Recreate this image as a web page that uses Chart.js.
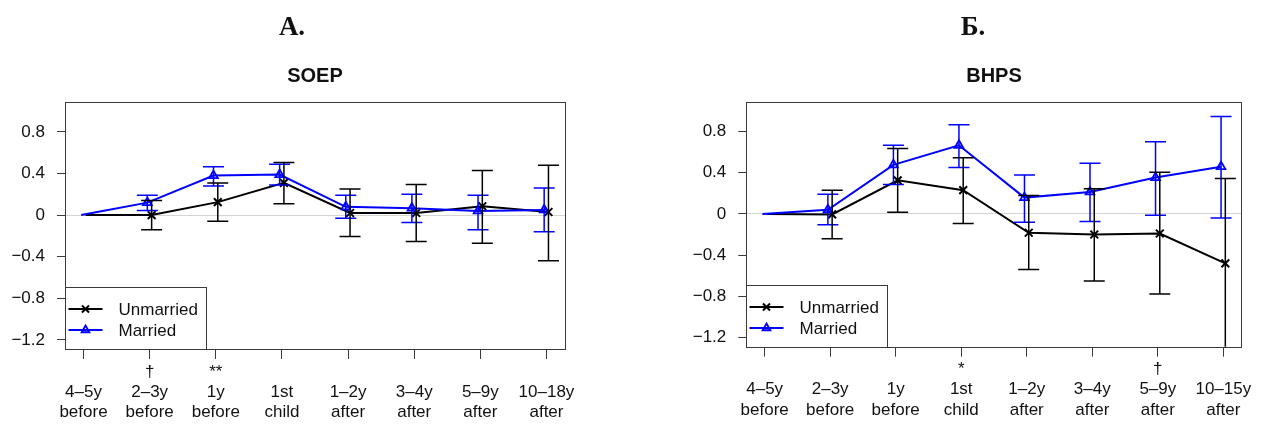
<!DOCTYPE html>
<html>
<head>
<meta charset="utf-8">
<script src="https://cdn.jsdelivr.net/npm/chart.js@4.4.0/dist/chart.umd.min.js"></script>
<style>
  body { margin: 0; background: #fff; }
  #wrap { position: relative; width: 1268px; height: 425px; overflow: hidden; }
  canvas { position: absolute; top: 0; }
  .lbl { position: absolute; width: 200px; text-align: center; line-height: 30px; color: #111; }
  .letter { font-family: "Liberation Serif", "Times New Roman", serif; font-weight: bold; font-size: 27px; }
  .name { font-family: "Liberation Sans", Arial, sans-serif; font-weight: bold; font-size: 20px; }
</style>
</head>
<body>
<div id="wrap">
  <canvas id="chartA" width="634" height="425" style="left:0"></canvas>
  <canvas id="chartB" width="634" height="425" style="left:634px"></canvas>
  <div class="lbl letter" style="left:192px; top:11px">A.</div>
  <div class="lbl name" style="left:215px; top:60px">SOEP</div>
  <div class="lbl letter" style="left:873px; top:11px">Б.</div>
  <div class="lbl name" style="left:894px; top:60px">BHPS</div>
</div>
<script>
// categories (two lines each)
const catsA = ['4–5y|before', '2–3y|before', '1y|before', '1st|child', '1–2y|after', '3–4y|after', '5–9y|after', '10–18y|after'];
const catsB = ['4–5y|before', '2–3y|before', '1y|before', '1st|child', '1–2y|after', '3–4y|after', '5–9y|after', '10–15y|after'];
const sigA = ['', '†', '**', '', '', '', '', ''];
const sigB = ['', '', '', '*', '', '', '†', ''];

const yTicks = [-1.2, -0.8, -0.4, 0, 0.4, 0.8];
const yTickLabels = ['−1.2', '−0.8', '−0.4', '0', '0.4', '0.8'];

// SOEP
const unmarriedA = [0, 0, 0.125, 0.31, 0.02, 0.02, 0.085, 0.03];
const unmarriedALo = [null, -0.14, -0.06, 0.11, -0.205, -0.255, -0.27, -0.44];
const unmarriedAHi = [null, 0.14, 0.31, 0.505, 0.25, 0.295, 0.43, 0.48];
const marriedA = [0, 0.12, 0.38, 0.39, 0.08, 0.067, 0.04, 0.05];
const marriedALo = [null, 0.045, 0.28, 0.29, -0.03, -0.07, -0.14, -0.16];
const marriedAHi = [null, 0.19, 0.465, 0.49, 0.19, 0.2, 0.19, 0.26];

// BHPS
const unmarriedB = [0, -0.005, 0.325, 0.23, -0.183, -0.2, -0.19, -0.48];
const unmarriedBLo = [null, -0.24, 0.016, -0.093, -0.54, -0.65, -0.776, -1.4];
const unmarriedBHi = [null, 0.23, 0.635, 0.545, 0.178, 0.245, 0.405, 0.342];
const marriedB = [0, 0.04, 0.475, 0.665, 0.158, 0.213, 0.352, 0.458];
const marriedBLo = [null, -0.105, 0.285, 0.45, -0.08, -0.075, -0.013, -0.04];
const marriedBHi = [null, 0.19, 0.665, 0.865, 0.377, 0.49, 0.70, 0.944];

const font = '"Liberation Sans", Arial, sans-serif';
Chart.defaults.font.family = font;
Chart.defaults.color = '#111';

const errorBars = {
  id: 'errorBars',
  afterDatasetsDraw(chart) {
    const { ctx, chartArea: a, scales: { x, y } } = chart;
    ctx.save();
    ctx.beginPath();
    ctx.rect(a.left, a.top, a.right - a.left, a.bottom - a.top);
    ctx.clip();
    chart.data.datasets.slice().reverse().forEach(ds => {
      ctx.strokeStyle = ds.borderColor;
      ctx.lineWidth = 1.5;
      ds.lo.forEach((lo, i) => {
        if (lo === null) return;
        const px = x.getPixelForValue(i + ds.dodge);
        const top = y.getPixelForValue(ds.hi[i]);
        const bot = y.getPixelForValue(lo);
        ctx.beginPath();
        ctx.moveTo(px, top); ctx.lineTo(px, bot);
        ctx.moveTo(px - 10.5, top); ctx.lineTo(px + 10.5, top);
        ctx.moveTo(px - 10.5, bot); ctx.lineTo(px + 10.5, bot);
        ctx.stroke();
      });
    });
    ctx.restore();
  }
};

const frameLegend = {
  id: 'frameLegend',
  afterDraw(chart) {
    const { ctx, chartArea: a } = chart;
    ctx.save();
    ctx.strokeStyle = '#3a3a3a';
    ctx.lineWidth = 1;
    ctx.strokeRect(Math.round(a.left) + 0.5, Math.round(a.top) + 0.5,
      Math.round(a.right - a.left), Math.round(a.bottom - a.top));

    // legend box in the bottom-left corner
    const lw = 141, lh = 62;
    const lx = Math.round(a.left) + 0.5, ly = Math.round(a.bottom - lh) + 0.5;
    ctx.fillStyle = '#fff';
    ctx.fillRect(lx, ly, lw, lh);
    ctx.strokeRect(lx, ly, lw, lh);
    const rows = [21.5, 42.5];
    chart.data.datasets.forEach((ds, k) => {
      const ry = ly + rows[k];
      ctx.strokeStyle = ds.borderColor;
      ctx.lineWidth = 2;
      ctx.beginPath();
      ctx.moveTo(lx + 3, ry); ctx.lineTo(lx + 37, ry);
      ctx.stroke();
      ctx.fillStyle = 'rgba(0,0,0,0)';
      ctx.lineWidth = ds.pointBorderWidth;
      Chart.helpers.drawPoint(ctx, { pointStyle: ds.pointStyle, radius: ds.markerSize - 0.5, borderWidth: ds.pointBorderWidth, rotation: 0 }, lx + 20, ry);
      ctx.fillStyle = '#111';
      ctx.font = '17px ' + font;
      ctx.textBaseline = 'middle';
      ctx.fillText(ds.label, lx + 53, ry + 1);
    });
    ctx.restore();
  }
};

function makeChart(id, cats, sig, series, box) {
  const toPts = (vals, dodge) => vals.map((v, i) => ({ x: i + dodge, y: v }));
  // the reference point (first category) carries no marker
  const radii = (vals, r) => vals.map((v, i) => (i === 0 ? 0 : r));
  return new Chart(document.getElementById(id), {
    type: 'scatter',
    data: {
      datasets: [
        {
          label: 'Unmarried',
          data: toPts(series.um, 0.03),
          lo: series.umLo, hi: series.umHi, dodge: 0.03,
          showLine: true,
          borderColor: '#000',
          borderWidth: 2,
          pointStyle: 'crossRot',
          markerSize: 5.5,
          pointRadius: radii(series.um, 5.5),
          pointBorderWidth: 2,
          pointBackgroundColor: 'rgba(0,0,0,0)',
          order: 2
        },
        {
          label: 'Married',
          data: toPts(series.m, -0.035),
          lo: series.mLo, hi: series.mHi, dodge: -0.035,
          showLine: true,
          borderColor: '#0000ff',
          borderWidth: 2,
          pointStyle: 'triangle',
          markerSize: 5,
          pointRadius: radii(series.m, 5),
          pointBorderWidth: 1.8,
          pointBackgroundColor: 'rgba(0,0,0,0)',
          order: 1
        }
      ]
    },
    options: {
      responsive: false,
      animation: false,
      devicePixelRatio: 1,
      layout: { padding: { left: 0, top: box.top, right: box.right, bottom: 0 } },
      plugins: { legend: { display: false }, tooltip: { enabled: false } },
      scales: {
        x: {
          type: 'linear',
          min: -0.28, max: 7.28,
          afterBuildTicks: s => { s.ticks = cats.map((c, i) => ({ value: i })); },
          afterFit: s => { s.height = box.xh; },
          border: { display: false },
          grid: { drawOnChartArea: false, tickLength: 10, tickColor: '#3a3a3a', tickWidth: 1 },
          ticks: {
            autoSkip: false, maxRotation: 0, padding: 3,
            font: { size: 17, lineHeight: 1.18 },
            callback: (v, i) => [sig[i], ...cats[i].split('|')]
          }
        },
        y: {
          min: -1.288, max: 1.088,
          afterBuildTicks: s => { s.ticks = yTicks.map(v => ({ value: v })); },
          afterFit: s => { s.width = box.yw; },
          border: { display: false },
          grid: {
            color: c => (c.tick && c.tick.value === 0 ? '#d4d4d4' : 'rgba(0,0,0,0)'),
            tickColor: '#3a3a3a', tickLength: 8, lineWidth: 1
          },
          ticks: {
            padding: 12,
            font: { size: 17 },
            callback: (v, i) => yTickLabels[i]
          }
        }
      }
    },
    plugins: [errorBars, frameLegend]
  });
}

makeChart('chartA', catsA, sigA,
  { um: unmarriedA, umLo: unmarriedALo, umHi: unmarriedAHi, m: marriedA, mLo: marriedALo, mHi: marriedAHi },
  { top: 102, right: 69, xh: 76, yw: 65 });

makeChart('chartB', catsB, sigB,
  { um: unmarriedB, umLo: unmarriedBLo, umHi: unmarriedBHi, m: marriedB, mLo: marriedBLo, mHi: marriedBHi },
  { top: 101.7, right: 26.3, xh: 78.3, yw: 112.3 });
</script>
</body>
</html>
